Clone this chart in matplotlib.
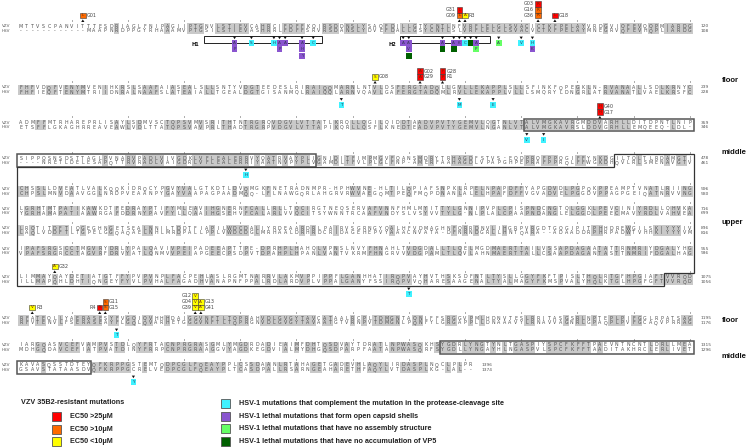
import numpy as np
import matplotlib.pyplot as plt
from matplotlib.patches import Rectangle, Polygon

# alignment VZV ORF40 / HSV-1 VP5, 120 columns per block
vzv_rows = [
    "MTTVSCPANVITTTESDRIAGLFNIPAGIIPTGNVLSTIEVCAHRCIFDFFKQIRSDDNSLYSAQFDILLGTYCNTLNFVRFLELGLSVACICTKFPELAYVRDGVIQFEVQQPMIARDG",
    "FHFVDQFVENYMVENIHKRSLSAAFAIASEALSLLSNTYVDGTEEDESLRIRAIQQMARNLNTVLDSFERGTADQLLGVLLEKAPPLSLLSFINKFQPEGKLN-RVANAALLSDLKRNYC",
    "ADMFFMTRHAREPRLISAYLSDMVSCTQPSVMVSRITHTNTRGRQVDGVLVTTATLKRQLLQGILQIDDTAADVPVTYGEMVLQGTNLVTALVMGKAVRGMDDVARHLLDITDPNTLNIP",
    "SIPPQSNSDSTTAGLPVNARVPADLVIVGDKLVFLEALERRVYQATRVAYPLIGNIDITFIMPMGVFQANSMDRYTRHAGDFSTVS-EQDPRQFPPQGIFFYNKDGILTQLTLRDAMGTI",
    "CHSSLLDVEATLVALKQQKIDRQCYPGVYVALGTKDTLDVQMGKFNETRADNMPR-HPHWVNE-HLTILQPIAFSNPKLRPELNPAPDFFYAPGDVDLPGPQKPPEAMPTVNATLRIING",
    "LGRHTMTPATIKAWKDTFEDRAYPTIFYMLEAVIHGNERNFCALLRLLTQCIRGTNEQSERVAFVNNFHMLMYITTYLGNNIPVPLCPISPNDCNGTQLGGKLPEVCINIYRDLLQHVKA",
    "LRQTITDFTIQGEGHNGETSEALNNILTDDTFIAPILWDCDALIYRDEAARDRLPAIRVSGRNGYQALHFVDMAGHNFQRRDNVLIHGRPVRGDTGQGIPITPHHDREWGILSKIYYYIV",
    "IPAFSRGSCCTMGVRYDRLYPALQAVIVPEIPADEEAPTTPE-DPRHPLHAHQLVPNSLNVYFHNAHLTVDGDALLTLQELMGDMAERTTAILVSSAPDAGAATATTRNMRIYDGALYHG",
    "LIMMAYQAYDETIATGTFFYPVPVNPLFACPEHLASLRGMTNARRVLAKMVPPIPPFLGANHHATIRQPVAYHVTHSKSDFNTLTYSLLGGYFKFTPISLTHQLRTGFHPGIAFTVVRQD",
    "RFATEQLLYAERASESYFVGQIQVHHHDAIGGVNFTLTQPRAHVDLGVGYTAVCATAALRCPLTDMGNTAQNLFFSRGGVPMLHDNVTESLRRITASGSRLNPTEPLPIFGGLRPATSAG",
    "IARGQASVCEFVAMPVSTDLQYFRTACNPRGRASGMLYMGDRDADIEAIMFDHTQSDVAYTDRATLNPWASQKHSYGDRLYNGTYNLTGASPIYSPCFKFFTPAEVNTNCNTLDRLLMEA",
    "KAVASQSSTDTEYQFKRPPGSTEMTQDPCGLFQEAYPPLCSSDAANLRTAHAGETGADEVHLAQYLIRDASPLNQCLPLPR",
]
hsv_rows = [
    "------------MAAPNRDPPGYRHAAAMVPTGSILSTIEVASHRRLFDFFSRVRSDANSLYDVEFDALLGSYCNTLSLVRFLELGLSVACVCTKFPELAYMNEGRVQFEVHQPLIARDG",
    "FHFIEQFTENYMTRIIDNRALNAAFSLATEAIALLTGEALDGTGISANMQLRAIQQLARNVQAVLGAFERGTADQMLRVLLEKAPPLVLLLSMQRYLDNGRLATRVANATLVAELKRSFC",
    "ETSFFLGKAGHRREAVEAWLVDLTTATQPSVAVPRLTHADTRGRPVDGVLVTTAPIKQRLLQSFLKNEDTEADVPVTYGEMVLNGANLVTALVMGKAVRSLDDVGRHLLEMQEEQ-LDL-",
    "----NRETLDELESAPQTTRVRADLVAIGDRLVFLEALERRIYAATNVPYPLVGAMDLTFVLPLGLFNP-AMERFAAHAGDLVPAPGHPEPRAFPPRQLFFWGKDHQVLRLSMENAVGTV",
    "CHPSLMNVDAAVGGLNRDPVEAANPYGAYVAAPAGPAADMQQ-LFLNAWGQRLAHGRVRWVAEGQMTPEQFMQPDNANLALELHPAFDFFVGVADVELPGGDVPPAGPGEIQATNRVVNG",
    "YGRHAMAPATIAAWRGAFDDRNYPAVFYLLQAAIHGSEHVFCALARLVVQCITSYWNNTRCAAFVNDYSLVSYVVTYLG-NLPLALCPAAPNDANGLELGGDLPEECMAVYRDLVAHVEA",
    "LAQLVDDFTLTGPELGGQAQAELNHLMRDPALLPPLVWDCDGLMRHAALDRHRDCRIDAGEHEPVYAAACNVATA-DFNRNDGRLLHNTQARA--ADAADDRPHRPADWTVHHKIYYYVM",
    "VPAFSRGRCCTAGVRFDRVYATLQNMVVPEIAPGEECPSDPVTDPAHPLHPANLVANTVKRMFHNGRVVVDGPAMLTLQVLAHNMAERTTALLCSAAPDAGANTASTTNMRIFDGALHAG",
    "ILLMAPQHLDHTIQNGEYFYVLPVHALFAGADHVANAPNFPPALRDLARDVPLVPPALGANYFSSIRQPVVQHARESAAGENALTYALMAGYFKMSPVALYHQLKTGLHPGFGFTVVRQD",
    "RFVTENVLFSERASEAYFLGQLQVARHETGGGVNFTLTQPRGNVDLGVGYTAVAATGTVRNPVTDMGNLPQNFYLGRGAPPLLDNAAAVYLRNAVVAGNRLGPAQPLPVFGCAQVPRRAG",
    "MDHGQDAVCEFIATPVATDINYFRRPCNPRGRAAGGVYAGDKEGDVIALMYDHGQSDPARPFAATANPWASQRFSYGDLLYNGAYHLNGASPVLSPCFKFFTAADITAKHRCLERLIVET",
    "GSAVSTATAASDVQFKRPPGCRELVEDPCGLFQEAYPLTCASDPALLRSARNGEAHARETHFAQYLVTDASPLKG-LAL--",
]
vzv_ends = [120, 239, 359, 478, 596, 716, 836, 955, 1075, 1195, 1315, 1396]
hsv_ends = [108, 228, 346, 461, 580, 699, 816, 936, 1056, 1176, 1296, 1374]

# VZV 35B2-resistant mutations (alignment column, clone, residue, EC50 class), top of stack first
vzv_mut_col = [12, 79, 79, 80, 93, 93, 93, 96, 184, 192, 192, 196, 196, 344, 344,
               967, 1083, 1095, 1096, 1096, 1112, 1112, 1112, 1113, 1113]
vzv_mut_name = ['G01', 'G31', 'G09', 'R3', 'G03', 'G16', 'G36', 'G18', 'G08', 'G02', 'G29', 'G28', 'R1',
                'G40', 'G17', 'G32', 'R3', 'R4', 'G11', 'G15', 'G12', 'G04', 'G39', 'G13', 'G41']
vzv_mut_aa = ['L', 'L', 'L', 'A', 'R', 'R', 'R', 'L', 'S', 'A', 'A', 'P', 'P',
              'H', 'H', 'A', 'V', 'S', 'S', 'S', 'V', 'V', 'V', 'A', 'A']
vzv_mut_ec50 = ['>10', '>25', '>10', '<10', '>25', '>10', '>10', '>25', '<10', '>25', '>25', '>25', '>25',
                '>25', '>25', '<10', '<10', '>25', '>10', '>10', '<10', '<10', '<10', '<10', '<10']

# HSV-1 mutations (alignment column, substituted residue, phenotype), top of stack first
hsv_mut_col = [39, 39, 42, 46, 47, 47, 48, 51, 51, 51, 53, 69, 70, 70, 70, 76, 76, 78, 78, 79, 80, 81,
               82, 82, 86, 90, 92, 92, 178, 199, 205, 331, 334, 401, 1030, 1098, 1341]
hsv_mut_aa = ['A', 'P', 'S', 'H', 'A', 'P', 'A', 'A', 'H', 'Y', 'C', 'A', 'A', 'V', '', 'A', '', 'A', '', 'K',
              'C', '', 'A', 'P', 'A', 'V', 'H', 'K', 'T', 'M', 'E', 'V', 'I', 'H', 'T', 'T', 'Y']
hsv_mut_type = ['open', 'open', 'comp', 'comp', 'open', 'open', 'open', 'open', 'open', 'open', 'comp',
                'open', 'open', 'open', 'vp5', 'open', 'vp5', 'open', 'vp5', 'open', 'comp', 'vp5',
                'open', 'noasm', 'noasm', 'comp', 'comp', 'open', 'comp', 'comp', 'comp', 'comp', 'comp',
                'comp', 'comp', 'comp', 'comp']

# helices and capsid domains (alignment columns)
helix_names = ['H1', 'H2']
helix_start = [34, 69]
helix_end = [54, 84]
middle_start = [331, 1276]
middle_end = [413, 1333]
upper_start = 467
upper_end = 1075
domain_labels = ['floor', 'middle', 'upper', 'floor', 'middle']
domain_label_y = [80, 152, 222, 320, 357]

ec50_labels = ['EC50 >25\u03bcM', 'EC50 >10\u03bcM', 'EC50 <10\u03bcM']
ec50_keys = ['>25', '>10', '<10']
hsv_type_keys = ['comp', 'open', 'noasm', 'vp5']
hsv_type_labels = ['HSV-1 mutations that complement the mutation in the protease-cleavage site',
                   'HSV-1 lethal mutations that form open capsid shells',
                   'HSV-1 lethal mutations that have no assembly structure',
                   'HSV-1 lethal mutations that have no accumulation of VP5']

ec50_color = {'>25': '#ff0000', '>10': '#ff6a00', '<10': '#ffff00'}
type_color = {'comp': '#3ff2ff', 'open': '#8a55cf', 'noasm': '#66ff66', 'vp5': '#006000'}

# layout (pixels)
W, H = 754, 447
X0, DX = 21.0, 5.62
ROW_Y = [26, 87.5, 122.5, 158, 189, 208.5, 228, 248.5, 277, 318, 345, 365]
HDY = 4.6
NCOL = 120
SEQ_FONT = 'DejaVu Sans'


def col_x(c):
    return X0 + (c - 1) * DX


def aln_rc(a):
    return (a - 1) // NCOL, (a - 1) % NCOL + 1


fig = plt.figure(figsize=(W / 100, H / 100), dpi=100)
ax = fig.add_axes([0, 0, 1, 1])
ax.set_xlim(0, W)
ax.set_ylim(H, 0)
ax.axis('off')

# sequence blocks
for r in range(len(vzv_rows)):
    yv = ROW_Y[r]
    yh = yv + HDY
    ax.text(1.5, yv, 'VZV', fontsize=3.0, color='#555', va='center', family=SEQ_FONT)
    ax.text(1.5, yh, 'HSV', fontsize=3.0, color='#555', va='center', family=SEQ_FONT)
    for c, (a, b) in enumerate(zip(vzv_rows[r], hsv_rows[r])):
        x = col_x(c + 1)
        if a == b and a.isalpha():
            ax.add_patch(Rectangle((x - DX / 2, yv - 2.9), DX, HDY + 5.8, fc='#c9c9c9', ec='none', zorder=1))
        ax.text(x, yv, a, fontsize=3.4, color='#505050', ha='center', va='center', family=SEQ_FONT, zorder=3)
        ax.text(x, yh, b, fontsize=3.4, color='#505050', ha='center', va='center', family=SEQ_FONT, zorder=3)
        if (c + 1) % 10 == 0:
            ax.plot([x, x], [yv - 6.2, yv - 5.2], color='#777', lw=0.5, zorder=2)
    xe = col_x(len(vzv_rows[r])) + 11
    ax.text(xe, yv, str(vzv_ends[r]), fontsize=3.2, color='#555', va='center', family=SEQ_FONT)
    ax.text(xe, yh, str(hsv_ends[r]), fontsize=3.2, color='#555', va='center', family=SEQ_FONT)


def top_y(r):
    return ROW_Y[r] - 4.0


def bot_y(r):
    return ROW_Y[r] + HDY + 4.0


xL = col_x(1) - DX / 2 - 1.5
xR = col_x(NCOL) + DX / 2 + 1.5

# middle domain boxes
for s, e in zip(middle_start, middle_end):
    rs, cs = aln_rc(s)
    re_, ce = aln_rc(e)
    for r in range(rs, re_ + 1):
        c1 = cs if r == rs else 1
        c2 = ce if r == re_ else NCOL
        x1 = xL if c1 == 1 else col_x(c1) - DX / 2
        x2 = xR if c2 == NCOL else col_x(c2) + DX / 2
        ax.add_patch(Rectangle((x1, top_y(r)), x2 - x1, bot_y(r) - top_y(r), fc='none',
                               ec='#555', lw=1.1, zorder=4))

# upper domain outline
r1, c1 = aln_rc(upper_start)
r2, c2 = aln_rc(upper_end)
xc1 = col_x(c1) - DX / 2
xc2 = col_x(c2) + DX / 2
pts = [(xc1, top_y(r1)), (xR, top_y(r1)), (xR, top_y(r2)), (xc2, top_y(r2)), (xc2, bot_y(r2)),
       (xL, bot_y(r2)), (xL, bot_y(r1)), (xc1, bot_y(r1))]
ax.add_patch(Polygon(pts, closed=True, fc='none', ec='#333', lw=0.9, zorder=4))

# helix brackets under block 1
for name, s, e in zip(helix_names, helix_start, helix_end):
    yh = ROW_Y[0] + HDY
    x1 = col_x(s) - DX / 2
    x2 = col_x(e) + DX / 2
    ax.add_patch(Rectangle((x1, yh + 5.8), x2 - x1, 6.8, fc='none', ec='#222', lw=0.7, zorder=4))
    ax.text(x1 - 4, yh + 14, name, fontsize=3.6, weight='bold', ha='right', va='center', color='#111')


def triangle(x, y, up):
    d = -2.6 if up else 2.6
    ax.add_patch(Polygon([(x - 1.6, y), (x + 1.6, y), (x, y + d)], closed=True, fc='#111', ec='none', zorder=6))


BW, BH = 5.6, 5.8

# VZV resistant mutations above the VZV line
cols_done = {}
for col, name, aa, ec in zip(vzv_mut_col, vzv_mut_name, vzv_mut_aa, vzv_mut_ec50):
    cols_done.setdefault(col, []).append((name, aa, ec))
for col, items in cols_done.items():
    r, c = aln_rc(col)
    x = col_x(c)
    yv = ROW_Y[r]
    triangle(x, yv - 4.0, up=True)
    left = any((col + k) in cols_done for k in (1, 2, 3))
    for i, (name, aa, ec) in enumerate(reversed(items)):
        yb = yv - 7.6 - (i + 1) * BH
        ax.add_patch(Rectangle((x - BW / 2, yb), BW, BH, fc=ec50_color[ec], ec='#3a3a3a', lw=0.4, zorder=5))
        ax.text(x, yb + BH / 2, aa, fontsize=3.0, ha='center', va='center', color='#6a2a00', zorder=6)
        if left:
            ax.text(x - BW / 2 - 1, yb + BH / 2, name, fontsize=3.5, ha='right', va='center', color='#444')
        else:
            ax.text(x + BW / 2 + 1, yb + BH / 2, name, fontsize=3.5, ha='left', va='center', color='#444')

# HSV-1 mutations below the HSV line
hcols = {}
for col, aa, t in zip(hsv_mut_col, hsv_mut_aa, hsv_mut_type):
    hcols.setdefault(col, []).append((aa, t))
for col, items in hcols.items():
    r, c = aln_rc(col)
    x = col_x(c)
    yh = ROW_Y[r] + HDY
    triangle(x, yh + 6.0, up=False)
    for i, (aa, t) in enumerate(items):
        yb = yh + 9.6 + i * 6.2
        ax.add_patch(Rectangle((x - BW / 2, yb), BW, 6.0, fc=type_color[t], ec='none', zorder=5))
        ax.text(x, yb + 3.0, aa, fontsize=3.0, ha='center', va='center', color='#335', zorder=6)

# domain labels
for lab, y in zip(domain_labels, domain_label_y):
    ax.text(722, y, lab, fontsize=5.6, weight='bold', va='center', family='Liberation Sans', color='#111')

# legends
LF = dict(fontsize=5.2, weight='bold', va='center', family='Liberation Sans', color='#222')
ax.text(21, 403, 'VZV 35B2-resistant mutations', **LF)
for i, (k, lab) in enumerate(zip(ec50_keys, ec50_labels)):
    y = 416.5 + i * 12.7
    ax.add_patch(Rectangle((52, y - 4.5), 9, 9, fc=ec50_color[k], ec='#555', lw=0.6))
    ax.text(70, y, lab, **LF)
for i, (k, lab) in enumerate(zip(hsv_type_keys, hsv_type_labels)):
    y = 403.5 + i * 12.7
    ax.add_patch(Rectangle((221, y - 4.5), 9, 9, fc=type_color[k], ec='#555', lw=0.6))
    ax.text(239, y, lab, **LF)

fig.savefig('out.png', dpi=100)
